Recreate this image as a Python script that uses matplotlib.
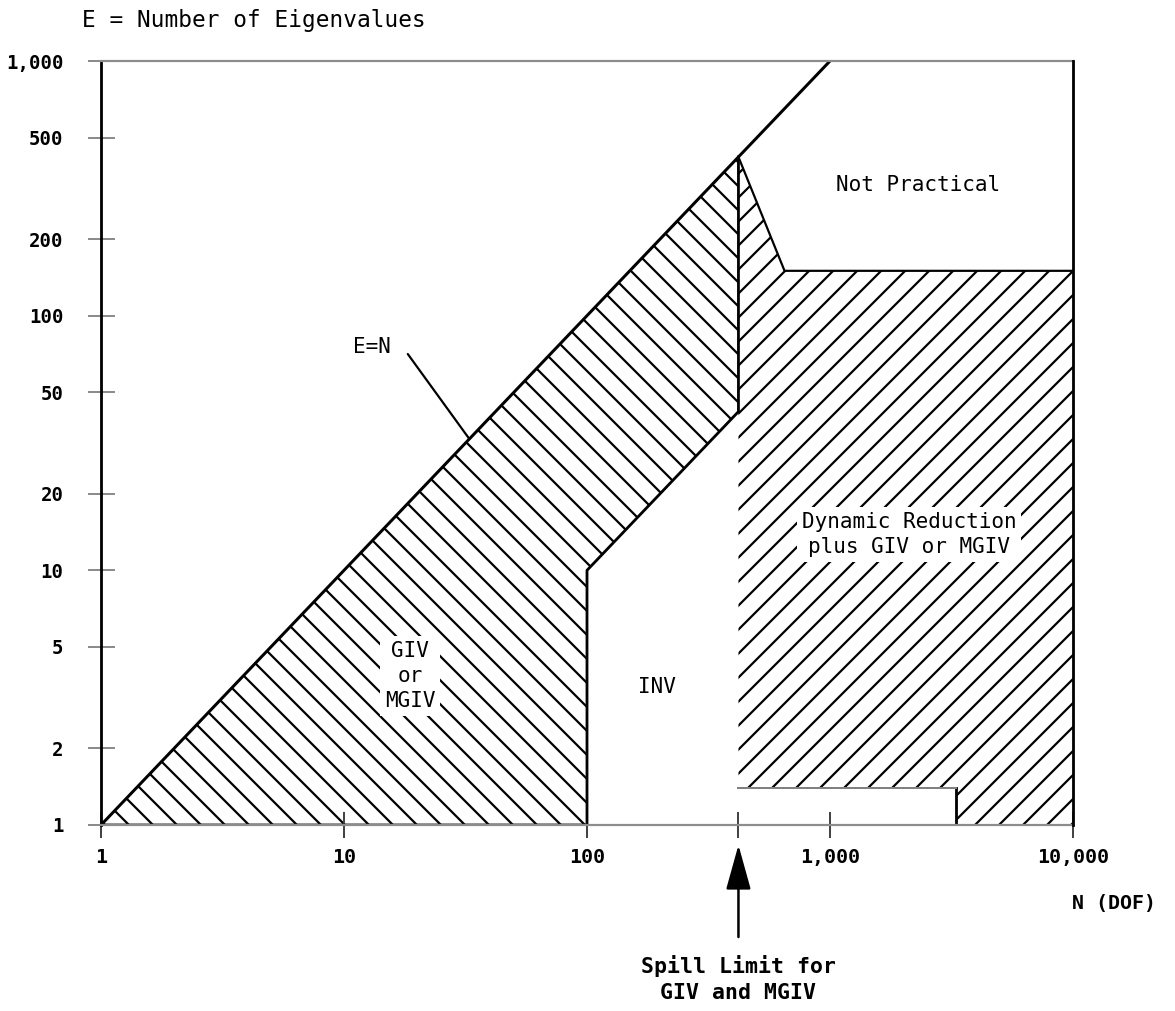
import matplotlib
matplotlib.use("Agg")
import matplotlib.pyplot as plt
from matplotlib.patches import Polygon

# data (N = DOF, E = number of eigenvalues)
en_line_n = [1, 1000]
en_line_e = [1, 1000]

spill_limit = 420

giv_n = [1, spill_limit, spill_limit, 100, 100]
giv_e = [1, 420, 42, 10, 1]

dyn_n = [spill_limit, 650, 10000, 10000, 3300, 3300, spill_limit]
dyn_e = [420, 150, 150, 1, 1, 1.4, 1.4]

xticks = [1, 10, 100, spill_limit, 1000, 10000]
xtick_labels = ["1", "10", "100", "", "1,000", "10,000"]
yticks = [1, 2, 5, 10, 20, 50, 100, 200, 500, 1000]
ytick_labels = ["1", "2", "5", "10", "20", "50", "100", "200", "500", "1,000"]

plt.rcParams["hatch.linewidth"] = 2.2
font = "DejaVu Sans Mono"

fig = plt.figure(figsize=(1175 / 72, 1011 / 72), dpi=72)
ax = fig.add_axes([101 / 1175, 1 - 825 / 1011, 972 / 1175, 764 / 1011])
ax.set_xscale("log")
ax.set_yscale("log")
ax.set_xlim(1, 10000)
ax.set_ylim(1, 1000)

# hatched regions
ax.add_patch(Polygon(list(zip(giv_n, giv_e)), closed=True, fill=False,
                     hatch="\\", edgecolor="black", linewidth=0))
ax.add_patch(Polygon(list(zip(dyn_n, dyn_e)), closed=True, fill=False,
                     hatch="/", edgecolor="black", linewidth=0))

# outlines
ax.plot(en_line_n, en_line_e, color="black", lw=3)
ax.plot(giv_n[1:] + giv_n[:1], giv_e[1:] + giv_e[:1], color="black", lw=2.8)
ax.plot(dyn_n[:3], dyn_e[:3], color="black", lw=2.2)
ax.plot(dyn_n[3:6], dyn_e[3:6], color="black", lw=2.8)
ax.plot(dyn_n[5:], dyn_e[5:], color="#808080", lw=2)

for side in ["top", "bottom"]:
    ax.spines[side].set_color("#8c8c8c")
    ax.spines[side].set_linewidth(2.2)
for side in ["left", "right"]:
    ax.spines[side].set_color("black")
    ax.spines[side].set_linewidth(2.8)
ax.spines["right"].set_zorder(5)

ax.minorticks_off()
ax.set_xticks(xticks)
ax.set_xticklabels(xtick_labels)
ax.set_yticks(yticks)
ax.set_yticklabels(ytick_labels)
ax.tick_params(axis="x", direction="inout", length=26, width=2,
               color="#444444", labelsize=20, pad=10)
ax.tick_params(axis="y", direction="inout", length=27, width=2,
               color="#8c8c8c", labelsize=19, pad=24)
for val, tick in zip(yticks, ax.yaxis.get_major_ticks()):
    if 50 <= val <= 500:
        tick.tick1line.set_color("black")
for lab in ax.get_xticklabels() + ax.get_yticklabels():
    lab.set_family(font)
    lab.set_weight("bold")

# region labels
box = dict(facecolor="white", edgecolor="none", pad=5)
ax.text(2300, 326, "Not Practical", family=font, fontsize=21,
        ha="center", va="center")
ax.text(18.7, 3.85, "GIV\nor\nMGIV", family=font, fontsize=21, ha="center",
        va="center", linespacing=1.3, bbox=box)
ax.text(194, 3.48, "INV", family=font, fontsize=21, ha="center", va="center")
ax.text(2115, 13.8, "Dynamic Reduction\nplus GIV or MGIV", family=font,
        fontsize=21, ha="center", va="center", linespacing=1.3, bbox=box)
ax.text(13, 75, "E=N", family=font, fontsize=21, ha="center", va="center")
ax.annotate("", xy=(32.8, 32.8), xytext=(18.3, 70.7),
            arrowprops=dict(arrowstyle="-", color="black", lw=2.2,
                            shrinkA=0, shrinkB=0))

# axis titles
fig.text(82 / 1175, 1 - 21 / 1011, "E = Number of Eigenvalues", family=font,
         fontsize=22.8, ha="left", va="center")
fig.text(1114 / 1175, 1 - 903 / 1011, "N (DOF)", family=font, fontsize=20,
         ha="center", va="center", weight="bold")

# spill limit arrow
ax.annotate("Spill Limit for\nGIV and MGIV", xy=(spill_limit, 1),
            xycoords="data", xytext=(0, -130), textcoords="offset points",
            family=font, fontsize=21.5, weight="bold", ha="center", va="top",
            linespacing=1.4, annotation_clip=False,
            arrowprops=dict(arrowstyle="-|>,head_length=1.8,head_width=0.5",
                            color="black", lw=2.5, shrinkA=16, shrinkB=20))

fig.savefig("out.png", dpi=72, facecolor="white")
